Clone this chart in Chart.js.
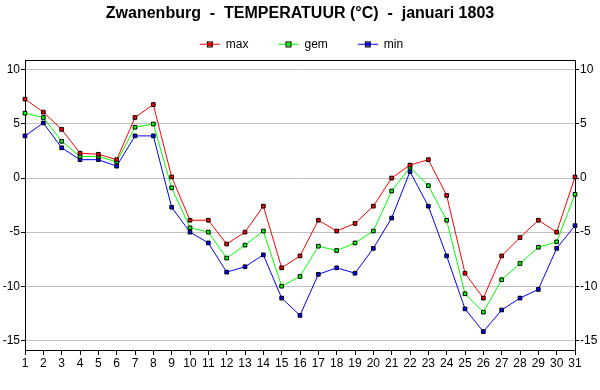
<!DOCTYPE html>
<html>
<head>
<meta charset="utf-8">
<script src="https://cdn.jsdelivr.net/npm/chart.js@4"></script>
<style>
  html, body { margin: 0; padding: 0; background: #fff; }
  #wrap { width: 600px; height: 390px; }
</style>
</head>
<body>
<div id="wrap"><canvas id="chart" width="600" height="390"></canvas></div>
<script>
const days = Array.from({ length: 31 }, (_, i) => String(i + 1));

const maxTemp = [7.3, 6.1, 4.5, 2.3, 2.2, 1.7, 5.6, 6.8, 0.1, -3.9,
                 -3.9, -6.1, -5.0, -2.6, -8.3, -7.2, -3.9, -4.9, -4.2, -2.6,
                 0.0, 1.2, 1.7, -1.6, -8.8, -11.1, -7.2, -5.5, -3.9, -5.0, 0.1];
const gemTemp = [6.0, 5.6, 3.4, 2.0, 2.0, 1.5, 4.7, 5.0, -0.9, -4.6,
                 -5.0, -7.4, -6.2, -4.9, -10.0, -9.1, -6.3, -6.7, -6.0, -4.9,
                 -1.2, 1.0, -0.7, -3.9, -10.7, -12.4, -9.4, -7.9, -6.4, -5.9, -1.5];
const minTemp = [3.9, 5.1, 2.8, 1.7, 1.7, 1.1, 3.9, 3.9, -2.7, -5.0,
                 -6.0, -8.7, -8.2, -7.1, -11.1, -12.7, -8.9, -8.3, -8.8, -6.5,
                 -3.7, 0.6, -2.6, -7.2, -12.1, -14.2, -12.2, -11.1, -10.3, -6.5, -4.4];

const yTicks = [-15, -10, -5, 0, 5, 10];

// legend symbol: small lead-in, then a short line with a square marker in the middle
function legendSymbol(color) {
    const c = document.createElement('canvas');
    c.width = 23;
    c.height = 7;
    const g = c.getContext('2d');
    g.strokeStyle = color;
    g.lineWidth = 1;
    g.beginPath();
    g.moveTo(3, 3.5);
    g.lineTo(23, 3.5);
    g.stroke();
    g.fillStyle = color;
    g.fillRect(11, 1.5, 4, 4);
    g.strokeStyle = '#000';
    g.strokeRect(10.5, 1, 5, 5);
    return c;
}

function series(label, data, color) {
    return {
        label: label,
        data: data,
        borderColor: color,
        backgroundColor: color,
        borderWidth: 1,
        pointStyle: 'rect',
        pointRadius: 2.6,
        pointBorderColor: '#000',
        pointBackgroundColor: color,
        pointBorderWidth: 1,
        tension: 0
    };
}

const frame = {
    id: 'frame',
    afterDraw(chart) {
        const { ctx, chartArea } = chart;
        ctx.save();
        ctx.strokeStyle = '#000';
        ctx.lineWidth = 1;
        ctx.beginPath();
        ctx.moveTo(chartArea.left, Math.round(chartArea.top) + 0.5);
        ctx.lineTo(chartArea.right, Math.round(chartArea.top) + 0.5);
        ctx.stroke();
        ctx.restore();
    }
};

const keepTicks = axis => {
    axis.ticks = yTicks.map(v => ({ value: v }));
};

const font = { family: 'Arial, "Liberation Sans", sans-serif', size: 12 };

new Chart('chart', {
    type: 'line',
    data: {
        labels: days,
        datasets: [
            series('max', maxTemp, '#ff0000'),
            series('gem', gemTemp, '#00ff00'),
            series('min', minTemp, '#0000ff')
        ]
    },
    options: {
        responsive: false,
        animation: false,
        layout: { padding: { left: 0, right: 0, top: 0, bottom: 0 } },
        scales: {
            x: {
                offset: false,
                grid: { display: true, drawOnChartArea: false, drawTicks: true, tickLength: 5, tickColor: '#000' },
                border: { display: true, color: '#000' },
                ticks: { color: '#000', font: font, padding: 1, maxRotation: 0, autoSkip: false },
                afterFit: s => { s.height = 40; }
            },
            y: {
                position: 'left',
                min: -15.9,
                max: 10.9,
                afterBuildTicks: keepTicks,
                grid: { color: '#c0c0c0', tickColor: '#000', tickLength: 4 },
                border: { display: true, color: '#000' },
                ticks: { color: '#000', font: font, padding: 1 },
                afterFit: s => { s.width = 25; }
            },
            y2: {
                position: 'right',
                min: -15.9,
                max: 10.9,
                afterBuildTicks: keepTicks,
                grid: { drawOnChartArea: false, tickColor: '#000', tickLength: 4 },
                border: { display: true, color: '#000' },
                ticks: { color: '#000', font: font, padding: 1 },
                afterFit: s => { s.width = 25; }
            }
        },
        plugins: {
            title: {
                display: true,
                text: 'Zwanenburg  -  TEMPERATUUR (°C)  -  januari 1803',
                color: '#000',
                font: { family: 'Arial, "Liberation Sans", sans-serif', size: 16, weight: 'bold' },
                padding: { top: 4, bottom: -12 }
            },
            legend: {
                position: 'top',
                labels: {
                    color: '#000',
                    font: font,
                    usePointStyle: true,
                    pointStyleWidth: 23,
                    padding: 27,
                    generateLabels: chart => chart.data.datasets.map((ds, i) => ({
                        text: ds.label,
                        pointStyle: legendSymbol(ds.borderColor),
                        fontColor: '#000',
                        datasetIndex: i,
                        hidden: false,
                        lineWidth: 0
                    }))
                }
            },
            tooltip: { enabled: false }
        }
    },
    plugins: [frame]
});
</script>
</body>
</html>
